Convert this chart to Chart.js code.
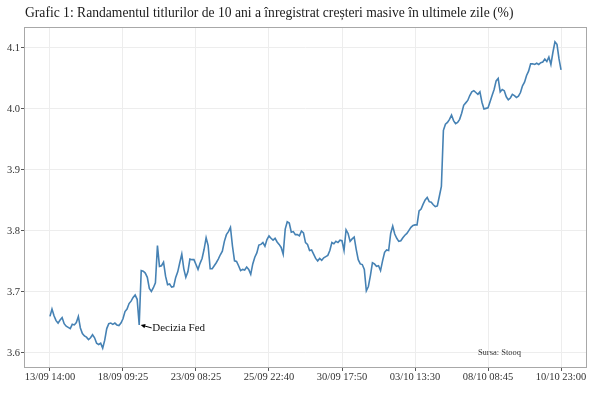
<!DOCTYPE html>
<html>
<head>
<meta charset="utf-8">
<script src="https://cdn.jsdelivr.net/npm/chart.js@4.4.0/dist/chart.umd.min.js"></script>
<style>
body { margin: 0; background: #fff; }
#wrap { width: 600px; height: 399px; }
</style>
</head>
<body>
<div id="wrap"><canvas id="chart1" width="600" height="399"></canvas></div>
<script>
const titleText = 'Grafic 1: Randamentul titlurilor de 10 ani a înregistrat creșteri masive în ultimele zile (%)';
const sourceText = 'Sursa: Stooq';
const fedLabel = 'Decizia Fed';
const fedIndex = 44;

const tickLabels = ['13/09 14:00', '18/09 09:25', '23/09 08:25', '25/09 22:40',
    '30/09 17:50', '03/10 13:30', '08/10 08:45', '10/10 23:00'];
const pointsPerTick = 36;
const yTicks = [3.6, 3.7, 3.8, 3.9, 4.0, 4.1];

// randament (%) - one value every ~2px of the original picture
const yields = [
    3.660, 3.672, 3.661, 3.653, 3.649, 3.654, 3.658, 3.648, 3.644, 3.642,
    3.640, 3.647, 3.646, 3.650, 3.660, 3.641, 3.632, 3.628, 3.626, 3.622,
    3.625, 3.630, 3.625, 3.616, 3.614, 3.616, 3.608, 3.621, 3.640, 3.648,
    3.649, 3.647, 3.649, 3.646, 3.645, 3.649, 3.656, 3.668, 3.672, 3.681,
    3.685, 3.691, 3.695, 3.688, 3.646, 3.735, 3.734, 3.731, 3.724, 3.706,
    3.701, 3.707, 3.715, 3.776, 3.742, 3.743, 3.749, 3.726, 3.712, 3.713,
    3.708, 3.709, 3.724, 3.733, 3.748, 3.762, 3.738, 3.724, 3.733, 3.754,
    3.753, 3.753, 3.745, 3.737, 3.747, 3.755, 3.770, 3.789, 3.776, 3.738,
    3.738, 3.743, 3.748, 3.754, 3.761, 3.767, 3.783, 3.794, 3.799, 3.806,
    3.775, 3.751, 3.750, 3.743, 3.735, 3.737, 3.736, 3.741, 3.737, 3.729,
    3.746, 3.757, 3.764, 3.777, 3.778, 3.781, 3.775, 3.786, 3.792, 3.788,
    3.785, 3.788, 3.782, 3.778, 3.773, 3.762, 3.803, 3.815, 3.813, 3.798,
    3.799, 3.794, 3.794, 3.792, 3.800, 3.797, 3.781, 3.778, 3.768, 3.769,
    3.762, 3.755, 3.751, 3.755, 3.752, 3.756, 3.758, 3.760, 3.768, 3.781,
    3.779, 3.783, 3.781, 3.785, 3.784, 3.768, 3.802, 3.796, 3.783, 3.787,
    3.790, 3.770, 3.753, 3.746, 3.745, 3.737, 3.702, 3.709, 3.727, 3.748,
    3.746, 3.742, 3.743, 3.735, 3.751, 3.765, 3.769, 3.768, 3.796, 3.808,
    3.795, 3.788, 3.783, 3.784, 3.789, 3.793, 3.796, 3.801, 3.806, 3.809,
    3.810, 3.810, 3.833, 3.836, 3.844, 3.851, 3.855, 3.848, 3.847, 3.843,
    3.840, 3.841, 3.857, 3.873, 3.965, 3.975, 3.978, 3.983, 3.990, 3.981,
    3.976, 3.978, 3.983, 3.993, 4.006, 4.010, 4.014, 4.022, 4.028, 4.030,
    4.027, 4.024, 4.028, 4.011, 4.000, 4.001, 4.002, 4.012, 4.022, 4.032,
    4.046, 4.050, 4.028, 4.032, 4.030, 4.020, 4.015, 4.018, 4.024, 4.022,
    4.019, 4.021, 4.027, 4.038, 4.044, 4.055, 4.062, 4.074, 4.074, 4.073,
    4.075, 4.073, 4.076, 4.077, 4.082, 4.078, 4.085, 4.073, 4.093, 4.110,
    4.106, 4.082, 4.064
];

const tickIndex = tickLabels.map((t, i) => i * pointsPerTick);
const lastIndex = tickIndex[tickIndex.length - 1];

const serif = '"Liberation Serif", "DejaVu Serif", serif';

const extrasPlugin = {
    id: 'extras',
    afterDraw(chart) {
        const ctx = chart.ctx;
        const area = chart.chartArea;
        const xs = chart.scales.x;
        const ys = chart.scales.y;
        ctx.save();

        // panel border
        ctx.strokeStyle = '#a8a8a8';
        ctx.lineWidth = 1;
        ctx.strokeRect(area.left + 0.5, area.top + 0.5, area.width - 1, area.height - 1);

        // title
        ctx.fillStyle = '#1a1a1a';
        ctx.font = '13.6px ' + serif;
        ctx.textBaseline = 'middle';
        ctx.textAlign = 'left';
        ctx.fillText(titleText, area.left + 1, 13);

        // source
        ctx.font = '8.5px ' + serif;
        ctx.fillStyle = '#333';
        ctx.fillText(sourceText, xs.getPixelForValue(211), area.bottom - 15);

        // Fed annotation
        const px = xs.getPixelForValue(fedIndex) + 1.5;
        const py = ys.getPixelForValue(yields[fedIndex]);
        const tx = px + 11;
        const ty = py + 3;
        ctx.strokeStyle = '#000';
        ctx.fillStyle = '#000';
        ctx.lineWidth = 1;
        ctx.beginPath();
        ctx.moveTo(px + 3, py + 0.8);
        ctx.lineTo(tx, ty);
        ctx.stroke();
        const ang = Math.atan2(ty - py, tx - px);
        ctx.beginPath();
        ctx.moveTo(px, py);
        ctx.lineTo(px + 5 * Math.cos(ang - 0.45), py + 5 * Math.sin(ang - 0.45));
        ctx.lineTo(px + 5 * Math.cos(ang + 0.45), py + 5 * Math.sin(ang + 0.45));
        ctx.closePath();
        ctx.fill();
        ctx.font = '11px ' + serif;
        ctx.fillStyle = '#111';
        ctx.fillText(fedLabel, tx + 0.5, ty);

        ctx.restore();
    }
};

const chart1Ctx = document.querySelector('canvas#chart1').getContext('2d');

const chart1 = new Chart(chart1Ctx, {
    type: 'line',
    data: {
        datasets: [{
            label: 'Randament 10 ani',
            data: yields.map((v, i) => ({ x: i, y: v })),
            borderColor: '#4682b4',
            backgroundColor: '#4682b4',
            borderWidth: 1.6,
            pointRadius: 0,
            tension: 0
        }]
    },
    options: {
        responsive: false,
        animation: false,
        layout: {
            padding: { top: 27, right: 13, left: 0, bottom: 0 }
        },
        plugins: {
            legend: { display: false },
            tooltip: { enabled: false },
            title: { display: false }
        },
        scales: {
            x: {
                type: 'linear',
                min: -12.8,
                max: lastIndex + 12.8,
                afterBuildTicks: (scale) => {
                    scale.ticks = tickIndex.map(v => ({ value: v }));
                },
                afterFit: (scale) => { scale.height = 31; },
                ticks: {
                    autoSkip: false,
                    maxRotation: 0,
                    padding: 0,
                    color: '#333',
                    font: { family: serif, size: 10.5 },
                    callback: (value, index) => tickLabels[index]
                },
                grid: {
                    color: '#ededed',
                    tickColor: '#555',
                    tickLength: 3
                },
                border: { display: false }
            },
            y: {
                min: 3.5754,
                max: 4.1344,
                afterBuildTicks: (scale) => {
                    scale.ticks = yTicks.map(v => ({ value: v }));
                },
                afterFit: (scale) => { scale.width = 24; },
                ticks: {
                    padding: 1,
                    color: '#333',
                    font: { family: serif, size: 10.5 },
                    callback: (value) => value.toFixed(1)
                },
                grid: {
                    color: '#ededed',
                    tickColor: '#555',
                    tickLength: 3
                },
                border: { display: false }
            }
        }
    },
    plugins: [extrasPlugin]
});
</script>
</body>
</html>
